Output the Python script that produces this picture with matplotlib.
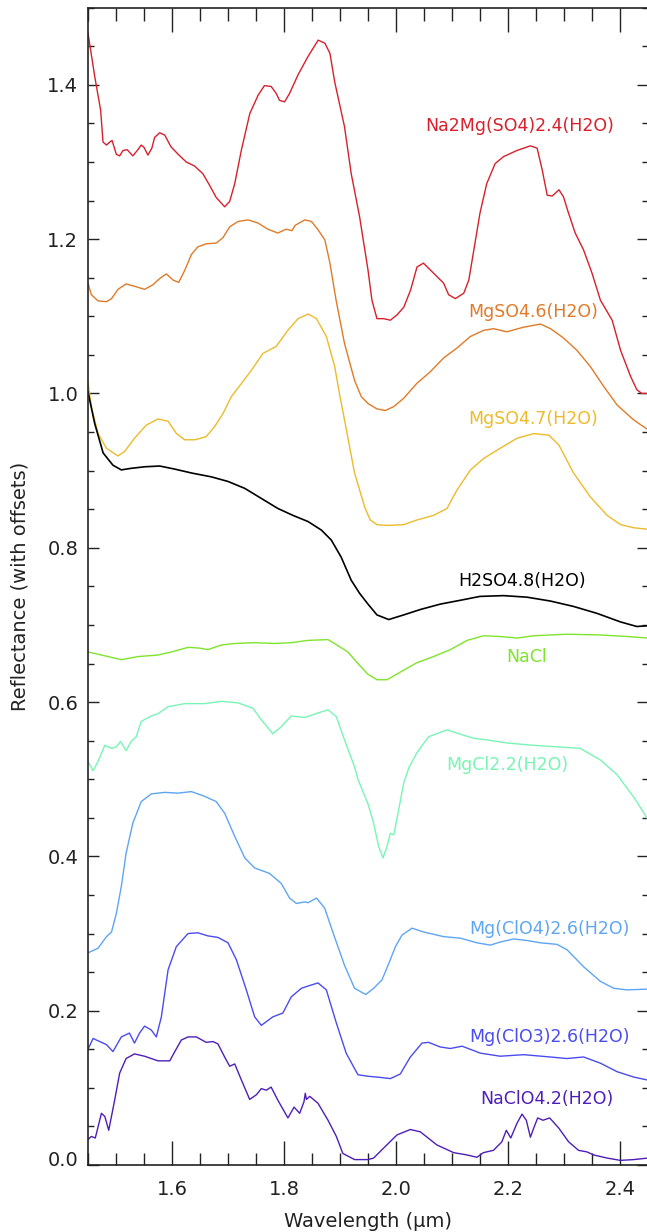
import matplotlib
matplotlib.use("Agg")
import matplotlib.pyplot as plt
from matplotlib.ticker import MultipleLocator, FormatStrFormatter
from matplotlib.transforms import ScaledTranslation

# ---------------- data (wavelength in um, reflectance with offsets) ----------------
wl_na2mg = [1.450, 1.462, 1.4726, 1.4768, 1.483, 1.489, 1.493, 1.5006, 1.5065, 1.5125, 1.520, 1.530,
            1.538, 1.545, 1.550, 1.557, 1.564, 1.569, 1.578, 1.587, 1.598, 1.611, 1.6256, 1.640, 1.655,
            1.667, 1.679, 1.694, 1.703, 1.712, 1.724, 1.739, 1.754, 1.765, 1.777, 1.786, 1.792, 1.801,
            1.810, 1.825, 1.843, 1.861, 1.873, 1.882, 1.8905, 1.908, 1.920, 1.935, 1.950, 1.957, 1.966,
            1.978, 1.990, 2.002, 2.014, 2.026, 2.0375, 2.049, 2.067, 2.085, 2.094, 2.106, 2.121, 2.130,
            2.139, 2.150, 2.162, 2.177, 2.192, 2.216, 2.240, 2.252, 2.261, 2.270, 2.279, 2.291, 2.299,
            2.308, 2.320, 2.335, 2.350, 2.365, 2.386, 2.401, 2.419, 2.430, 2.439, 2.450]
r_na2mg = [1.467, 1.411, 1.367, 1.326, 1.322, 1.326, 1.328, 1.310, 1.308, 1.315, 1.316, 1.308,
           1.315, 1.322, 1.319, 1.309, 1.318, 1.332, 1.338, 1.335, 1.320, 1.310, 1.300, 1.295, 1.285,
           1.270, 1.254, 1.242, 1.249, 1.272, 1.316, 1.363, 1.387, 1.399, 1.398, 1.389, 1.380, 1.378,
           1.389, 1.413, 1.437, 1.458, 1.454, 1.441, 1.404, 1.346, 1.285, 1.229, 1.160, 1.121, 1.097,
           1.097, 1.095, 1.102, 1.112, 1.134, 1.164, 1.169, 1.156, 1.143, 1.128, 1.123, 1.130, 1.147,
           1.186, 1.234, 1.272, 1.298, 1.307, 1.315, 1.321, 1.318, 1.290, 1.257, 1.256, 1.264, 1.255,
           1.234, 1.208, 1.186, 1.156, 1.121, 1.095, 1.056, 1.022, 1.005, 1.000, 1.000]

wl_mgso4_6 = [1.450, 1.456, 1.468, 1.483, 1.492, 1.5036, 1.518, 1.533, 1.551, 1.566, 1.578, 1.590,
              1.602, 1.612, 1.623, 1.6345, 1.646, 1.661, 1.679, 1.691, 1.703, 1.718, 1.736, 1.7536,
              1.771, 1.789, 1.804, 1.814, 1.820, 1.837, 1.849, 1.861, 1.873, 1.882, 1.893, 1.908,
              1.926, 1.938, 1.950, 1.966, 1.981, 1.996, 2.014, 2.037, 2.061, 2.085, 2.109, 2.133,
              2.157, 2.174, 2.198, 2.228, 2.258, 2.276, 2.299, 2.323, 2.347, 2.371, 2.395, 2.424, 2.450]
r_mgso4_6 = [1.143, 1.128, 1.120, 1.119, 1.123, 1.135, 1.142, 1.139, 1.135, 1.141, 1.149, 1.155,
             1.147, 1.144, 1.160, 1.180, 1.190, 1.194, 1.195, 1.202, 1.216, 1.223, 1.225, 1.221,
             1.213, 1.208, 1.213, 1.211, 1.218, 1.225, 1.223, 1.212, 1.199, 1.169, 1.121, 1.065,
             1.017, 0.996, 0.987, 0.980, 0.978, 0.983, 0.994, 1.013, 1.028, 1.046, 1.059, 1.074,
             1.082, 1.084, 1.080, 1.086, 1.090, 1.084, 1.072, 1.056, 1.035, 1.009, 0.985, 0.966, 0.953]

wl_mgso4_7 = [1.450, 1.456, 1.468, 1.483, 1.5036, 1.5155, 1.533, 1.554, 1.575, 1.593, 1.608, 1.6226,
              1.6405, 1.661, 1.676, 1.691, 1.706, 1.724, 1.7417, 1.7625, 1.786, 1.807, 1.825, 1.843,
              1.858, 1.8756, 1.8905, 1.899, 1.908, 1.926, 1.944, 1.954, 1.966, 1.984, 2.0137, 2.037,
              2.067, 2.091, 2.109, 2.133, 2.157, 2.186, 2.216, 2.246, 2.273, 2.291, 2.317, 2.347,
              2.377, 2.401, 2.4244, 2.450]
r_mgso4_7 = [1.015, 0.983, 0.948, 0.929, 0.919, 0.925, 0.942, 0.959, 0.967, 0.964, 0.948, 0.940,
             0.940, 0.944, 0.957, 0.974, 0.996, 1.013, 1.030, 1.052, 1.061, 1.082, 1.097, 1.103,
             1.097, 1.074, 1.035, 1.000, 0.966, 0.897, 0.853, 0.836, 0.830, 0.829, 0.830, 0.836,
             0.842, 0.851, 0.875, 0.901, 0.916, 0.929, 0.942, 0.948, 0.946, 0.933, 0.897, 0.866,
             0.842, 0.830, 0.826, 0.824]

wl_h2so4 = [1.450, 1.462, 1.477, 1.4946, 1.5095, 1.527, 1.551, 1.578, 1.605, 1.6345, 1.670, 1.700,
            1.730, 1.7595, 1.789, 1.816, 1.843, 1.8667, 1.8845, 1.902, 1.920, 1.935, 1.950, 1.966,
            1.987, 2.0137, 2.0434, 2.079, 2.115, 2.150, 2.192, 2.234, 2.2756, 2.317, 2.359, 2.4006,
            2.430, 2.450]
r_h2so4 = [1.002, 0.961, 0.923, 0.907, 0.901, 0.903, 0.905, 0.906, 0.902, 0.897, 0.892, 0.886,
           0.877, 0.864, 0.851, 0.842, 0.834, 0.823, 0.810, 0.788, 0.758, 0.741, 0.727, 0.713,
           0.707, 0.713, 0.720, 0.727, 0.732, 0.737, 0.738, 0.736, 0.731, 0.724, 0.715, 0.704,
           0.698, 0.699]

wl_nacl = [1.450, 1.474, 1.5095, 1.539, 1.575, 1.599, 1.6286, 1.649, 1.664, 1.688, 1.712, 1.7476,
           1.783, 1.813, 1.843, 1.8786, 1.890, 1.914, 1.932, 1.950, 1.966, 1.984, 2.008, 2.037,
           2.067, 2.097, 2.127, 2.1565, 2.186, 2.216, 2.246, 2.305, 2.365, 2.413, 2.450]
r_nacl = [0.665, 0.661, 0.655, 0.659, 0.661, 0.665, 0.671, 0.670, 0.668, 0.674, 0.676, 0.677,
          0.676, 0.677, 0.680, 0.681, 0.676, 0.665, 0.650, 0.636, 0.629, 0.629, 0.639, 0.651,
          0.659, 0.668, 0.680, 0.686, 0.685, 0.683, 0.686, 0.688, 0.687, 0.685, 0.683]

wl_mgcl2 = [1.450, 1.459, 1.468, 1.480, 1.4917, 1.5006, 1.508, 1.518, 1.527, 1.536, 1.545, 1.563,
            1.575, 1.593, 1.6226, 1.658, 1.688, 1.718, 1.7446, 1.7595, 1.780, 1.795, 1.813, 1.837,
            1.861, 1.8786, 1.8935, 1.908, 1.926, 1.932, 1.950, 1.960, 1.969, 1.9768, 1.984, 1.990,
            1.996, 2.0047, 2.0137, 2.023, 2.037, 2.058, 2.091, 2.121, 2.139, 2.163, 2.198, 2.2458,
            2.2875, 2.329, 2.365, 2.3946, 2.4244, 2.450]
r_mgcl2 = [0.523, 0.511, 0.523, 0.544, 0.540, 0.542, 0.549, 0.537, 0.549, 0.555, 0.575, 0.582,
           0.585, 0.594, 0.598, 0.598, 0.601, 0.599, 0.592, 0.577, 0.559, 0.568, 0.582, 0.580,
           0.586, 0.590, 0.581, 0.551, 0.516, 0.500, 0.468, 0.443, 0.413, 0.398, 0.413, 0.430,
           0.428, 0.460, 0.495, 0.515, 0.534, 0.555, 0.564, 0.557, 0.553, 0.551, 0.547, 0.544,
           0.542, 0.540, 0.525, 0.506, 0.477, 0.448]

wl_mgclo4 = [1.450, 1.468, 1.483, 1.492, 1.5006, 1.5095, 1.518, 1.530, 1.545, 1.563, 1.587, 1.6107,
             1.6345, 1.658, 1.679, 1.694, 1.712, 1.730, 1.7476, 1.774, 1.795, 1.810, 1.822, 1.837,
             1.843, 1.858, 1.8726, 1.890, 1.908, 1.926, 1.946, 1.960, 1.975, 1.987, 1.999, 2.0107,
             2.0286, 2.0494, 2.085, 2.115, 2.1446, 2.1684, 2.186, 2.210, 2.2339, 2.2577, 2.2875,
             2.3054, 2.335, 2.365, 2.389, 2.4125, 2.450]
r_mgclo4 = [0.275, 0.281, 0.296, 0.302, 0.326, 0.361, 0.404, 0.443, 0.471, 0.481, 0.483, 0.482,
            0.484, 0.478, 0.471, 0.456, 0.426, 0.398, 0.385, 0.378, 0.365, 0.346, 0.339, 0.341,
            0.340, 0.346, 0.333, 0.296, 0.259, 0.229, 0.221, 0.229, 0.240, 0.261, 0.283, 0.298,
            0.307, 0.302, 0.296, 0.294, 0.288, 0.285, 0.289, 0.293, 0.291, 0.288, 0.286,
            0.279, 0.257, 0.238, 0.229, 0.227, 0.228]

wl_mgclo3 = [1.450, 1.459, 1.474, 1.483, 1.4946, 1.5095, 1.524, 1.533, 1.542, 1.551, 1.563, 1.572,
             1.581, 1.593, 1.6077, 1.6286, 1.646, 1.664, 1.682, 1.700, 1.715, 1.7327, 1.7476, 1.7595,
             1.780, 1.798, 1.813, 1.831, 1.843, 1.8607, 1.8756, 1.8935, 1.911, 1.932, 1.950, 1.966,
             1.990, 2.0077, 2.0256, 2.0464, 2.058, 2.079, 2.097, 2.118, 2.1506, 2.186, 2.228,
             2.2756, 2.305, 2.335, 2.365, 2.3946, 2.4244, 2.450]
r_mgclo3 = [0.150, 0.164, 0.159, 0.156, 0.147, 0.166, 0.171, 0.158, 0.171, 0.180, 0.175, 0.166,
            0.192, 0.253, 0.283, 0.300, 0.301, 0.297, 0.295, 0.288, 0.266, 0.227, 0.192, 0.181,
            0.192, 0.197, 0.218, 0.229, 0.232, 0.236, 0.227, 0.184, 0.145, 0.117, 0.115, 0.114,
            0.112, 0.118, 0.140, 0.158, 0.159, 0.153, 0.151, 0.154, 0.145, 0.141, 0.143,
            0.140, 0.138, 0.140, 0.132, 0.121, 0.114, 0.110]

wl_naclo4 = [1.450, 1.456, 1.463, 1.474, 1.480, 1.487, 1.4976, 1.5065, 1.518, 1.533, 1.551, 1.575,
             1.596, 1.605, 1.6167, 1.6286, 1.6435, 1.661, 1.673, 1.682, 1.694, 1.703, 1.712, 1.724,
             1.7387, 1.7506, 1.7595, 1.7685, 1.777, 1.789, 1.807, 1.818, 1.828, 1.8357, 1.838,
             1.840, 1.846, 1.8607, 1.8786, 1.8935, 1.905, 1.926, 1.950, 1.960, 1.978, 2.0018,
             2.0256, 2.0434, 2.073, 2.103, 2.127, 2.1446, 2.156, 2.174, 2.189, 2.197, 2.205, 2.216,
             2.225, 2.2327, 2.240, 2.246, 2.253, 2.2625, 2.2744, 2.2905, 2.3083, 2.326, 2.341,
             2.353, 2.377, 2.4006, 2.4244, 2.450]
r_naclo4 = [0.033, 0.037, 0.035, 0.067, 0.063, 0.045, 0.084, 0.119, 0.138, 0.144, 0.141, 0.135,
            0.135, 0.147, 0.162, 0.166, 0.166, 0.159, 0.160, 0.157, 0.140, 0.128, 0.131, 0.110,
            0.085, 0.091, 0.099, 0.097, 0.101, 0.084, 0.061, 0.075, 0.067, 0.082, 0.093,
            0.085, 0.089, 0.080, 0.058, 0.037, 0.015, 0.007, 0.007, 0.009, 0.022, 0.039,
            0.046, 0.043, 0.026, 0.016, 0.013, 0.010, 0.016, 0.019, 0.030, 0.045, 0.035, 0.054,
            0.066, 0.058, 0.036, 0.048, 0.061, 0.058, 0.061, 0.048, 0.030, 0.019, 0.017,
            0.013, 0.009, 0.006, 0.007, 0.009]

names = ["Na2Mg(SO4)2.4(H2O)", "MgSO4.6(H2O)", "MgSO4.7(H2O)", "H2SO4.8(H2O)", "NaCl",
         "MgCl2.2(H2O)", "Mg(ClO4)2.6(H2O)", "Mg(ClO3)2.6(H2O)", "NaClO4.2(H2O)"]
label_x = [2.221, 2.245, 2.245, 2.225, 2.234, 2.198, 2.274, 2.274, 2.270]
label_y = [1.347, 1.105, 0.967, 0.757, 0.658, 0.518, 0.306, 0.166, 0.086]
colors = ["#d7202c", "#e07a28", "#ecbb2c", "#000000", "#7ee42c",
          "#78f5b4", "#5fa5f5", "#4a4cf0", "#4e1eb8"]

series = [(wl_na2mg, r_na2mg), (wl_mgso4_6, r_mgso4_6), (wl_mgso4_7, r_mgso4_7),
          (wl_h2so4, r_h2so4), (wl_nacl, r_nacl), (wl_mgcl2, r_mgcl2),
          (wl_mgclo4, r_mgclo4), (wl_mgclo3, r_mgclo3), (wl_naclo4, r_naclo4)]

# ---------------- figure ----------------
plt.rcParams['font.family'] = ['DejaVu Sans']
fig = plt.figure(figsize=(6.47, 12.32), dpi=100)
W, H = 647.0, 1232.0
ax = fig.add_axes([88 / W, (H - 1165) / H, 560 / W, 1157.25 / H])

for (wl, r), c in zip(series, colors):
    lw = 1.2 if c == "#000000" else 1.0
    ax.plot(wl, r, color=c, lw=lw, solid_joinstyle='round')

for name, lx, ly, c in zip(names, label_x, label_y, colors):
    ax.text(lx, ly, name, color=c, fontsize=12.5, ha='center', va='center')

ax.set_xlim(1.45, 2.45)
ax.set_ylim(0.0, 1.5)
ax.xaxis.set_major_locator(MultipleLocator(0.2))
ax.xaxis.set_minor_locator(MultipleLocator(0.05))
ax.yaxis.set_major_locator(MultipleLocator(0.2))
ax.yaxis.set_minor_locator(MultipleLocator(0.05))
ax.xaxis.set_major_formatter(FormatStrFormatter('%.1f'))
ax.yaxis.set_major_formatter(FormatStrFormatter('%.1f'))

ax.tick_params(axis='both', which='both', direction='in', top=True, right=True,
               color='#222222', width=1.0, labelsize=14, labelcolor='#222222')
ax.tick_params(axis='x', which='major', length=17, pad=11)
ax.tick_params(axis='x', which='minor', length=9)
ax.tick_params(axis='y', which='major', length=8, pad=7)
ax.tick_params(axis='y', which='minor', length=4.5)

for sp in ax.spines.values():
    sp.set_linewidth(1.2)
    sp.set_color('#222222')

# the lowest y tick label sits a little above the axis line, as in the original
fig.canvas.draw()
shift = ScaledTranslation(0, 6 / 100.0, fig.dpi_scale_trans)
for tick in ax.yaxis.get_major_ticks():
    if abs(tick.get_loc()) < 1e-9:
        lab = tick.label1
        lab.set_transform(lab.get_transform() + shift)

ax.set_xlabel("Wavelength (μm)", fontsize=14, color='#222222', labelpad=9)
ax.set_ylabel("Reflectance (with offsets)", fontsize=14, color='#222222', labelpad=13)

fig.savefig("out.png", dpi=100)
